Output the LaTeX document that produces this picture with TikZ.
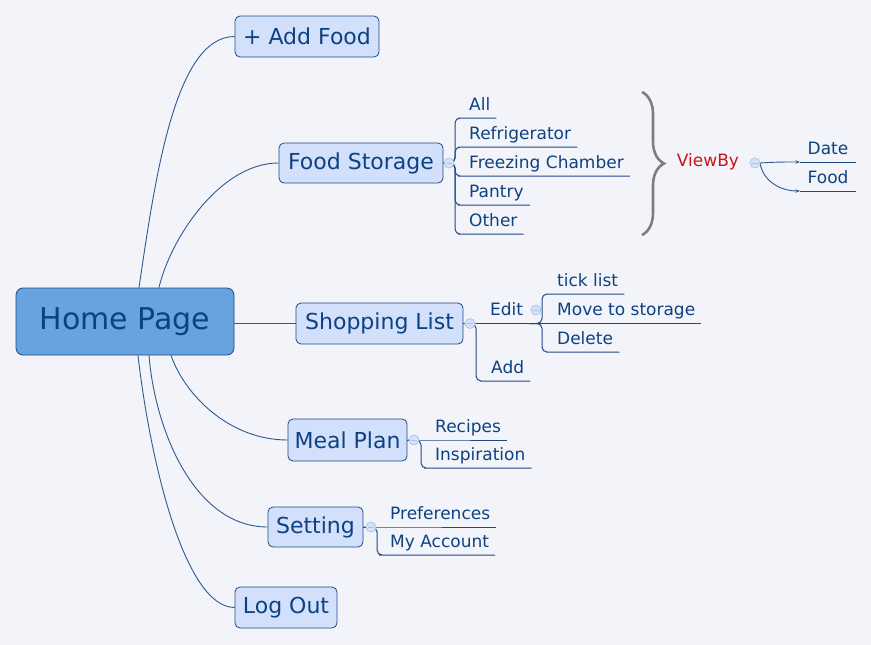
\documentclass[tikz,border=0pt]{standalone}
\usepackage{fontspec}
\setmainfont{DejaVu Sans}
\usetikzlibrary{arrows.meta,decorations.pathreplacing}
\definecolor{bg}{HTML}{F3F4F9}
\definecolor{nfill}{HTML}{D3E0FC}
\definecolor{ndraw}{HTML}{1D4A85}
\definecolor{txt}{HTML}{0D4282}
\definecolor{lnk}{HTML}{2B5B93}
\definecolor{rootfill}{HTML}{68A3DF}
\definecolor{cfill}{HTML}{D6E2F8}
\definecolor{cdraw}{HTML}{A9C2EB}
\definecolor{vred}{HTML}{C8151B}
\definecolor{brgray}{HTML}{7E7E7E}
\begin{document}
\begin{tikzpicture}[x=1pt,y=-1pt,
  topic/.style={draw=ndraw, fill=nfill, rounded corners=5pt, line width=0.8pt,
    text=txt, font=\fontsize{22}{26}\selectfont, inner sep=0pt},
  rootnode/.style={topic, fill=rootfill, rounded corners=7pt, font=\fontsize{30}{34}\selectfont},
  leaf/.style={anchor=south west, inner xsep=6pt, inner ysep=2.5pt, text height=12pt,
    text depth=5pt, font=\fontsize{17}{20}\selectfont, text=txt},
  leafv/.style={leaf, inner xsep=7.5pt},
  mainlink/.style={draw=lnk, line width=0.9pt},
  sub/.style={draw=ndraw, line width=1pt, rounded corners=5pt},
  thinlink/.style={draw=lnk, line width=0.9pt},
  coll/.style={circle, minimum size=10pt, inner sep=0pt, fill=cfill, draw=cdraw, line width=0.7pt,
    path picture={\draw[cdraw, line width=0.8pt] ([xshift=-3pt]path picture bounding box.center) -- ([xshift=3pt]path picture bounding box.center);}},
  bracestyle/.style={draw=brgray, line width=2.6pt, decorate, decoration={brace, amplitude=22pt}}
]
\useasboundingbox (0,0) rectangle (871,645);
\fill[bg] (0,0) rectangle (871,645);

% main topics
\node[rootnode, minimum width=218pt, minimum height=67pt] (root) at (125,321.5) {Home Page};
\node[topic, minimum width=144pt, minimum height=41pt] (add) at (307,36.5) {+ Add Food};
\node[topic, minimum width=164pt, minimum height=40pt] (fs) at (361,163) {Food Storage};
\node[topic, minimum width=167pt, minimum height=41pt] (shop) at (379.5,323.5) {Shopping List};
\node[topic, minimum width=119pt, minimum height=42pt] (meal) at (347.5,440) {Meal Plan};
\node[topic, minimum width=95pt, minimum height=40pt] (set) at (315.5,527) {Setting};
\node[topic, minimum width=102pt, minimum height=41pt] (out) at (286,607.5) {Log Out};

% main connectors
\draw[mainlink] ([xshift=14pt]root.north) .. controls +(16,-108) and +(-60,0) .. (add.west);
\draw[mainlink] ([xshift=34pt]root.north) .. controls +(11,-48) and +(-59,0) .. (fs.west);
\draw[mainlink] (root.east |- shop.west) -- (shop.west);
\draw[mainlink] ([xshift=46pt]root.south) .. controls +(14,40) and +(-58,0) .. (meal.west);
\draw[mainlink] ([xshift=24pt]root.south) .. controls +(6,75) and +(-73,0) .. (set.west);
\draw[mainlink] ([xshift=13pt]root.south) .. controls +(12,105) and +(-50,0) .. (out.west);

% Food Storage children
\coordinate (fsj) at (455,163);
\node[leaf] (all) at (463,118) {All};
\node[leaf] (refr) at (463,147) {Refrigerator};
\node[leaf] (freez) at (463,176) {Freezing Chamber};
\node[leaf] (pantry) at (463,205) {Pantry};
\node[leaf] (other) at (463,234) {Other};
\foreach \c in {all,refr,freez,pantry,other}
  \draw[sub] (fs.east) -- (fsj) |- (\c.south west) -- (\c.south east);

% Shopping List children
\coordinate (shj) at (476,323.5);
\coordinate (edj) at (542,323.5);
\node[leaf] (edit) at (484,323.5) {Edit};
\node[leaf] (addl) at (485,381) {Add};
\node[leaf] (tick) at (551,294) {tick list};
\node[leaf] (move) at (551,323.5) {Move to storage};
\node[leaf] (del) at (551,352) {Delete};
\draw[sub] (shop.east) -- (edit.south west) -- (edit.south east) -- (edj);
\draw[sub] (shop.east) -- (shj) |- (addl.south west) -- (addl.south east);
\draw[sub] (edj) -- (move.south west) -- (move.south east);
\draw[sub] (edit.south east) -- (edj) |- (tick.south west) -- (tick.south east);
\draw[sub] (edit.south east) -- (edj) |- (del.south west) -- (del.south east);

% Meal Plan children
\coordinate (mpj) at (421,440);
\node[leaf] (rec) at (429,440) {Recipes};
\node[leaf] (insp) at (429,468) {Inspiration};
\draw[sub] (meal.east) -- (rec.south west) -- (rec.south east);
\draw[sub] (meal.east) -- (mpj) |- (insp.south west) -- (insp.south east);

% Setting children
\coordinate (stj) at (377,527);
\node[leaf] (pref) at (384,527) {Preferences};
\node[leaf] (acct) at (384,555) {My Account};
\draw[sub] (set.east) -- (pref.south west) -- (pref.south east);
\draw[sub] (set.east) -- (stj) |- (acct.south west) -- (acct.south east);

% summary brace and ViewBy
\coordinate (brtop) at (642,92);
\coordinate (brbot) at (642,235);
\draw[bracestyle] (brtop) -- (brbot);
\node[font=\fontsize{17}{20}\selectfont, text=vred, inner sep=0pt] (vb) at (708,162) {ViewBy};
\coordinate (vbcc) at (755,163);
\node[leafv] (date) at (800,162) {Date};
\node[leafv] (foodl) at (800,191) {Food};
\draw[thinlink, -{Stealth[length=4.5pt,width=3.5pt]}] ([xshift=5pt]vbcc) .. controls +(15,-1) and +(-15,0) .. (date.south west);
\draw[thinlink, -{Stealth[length=4.5pt,width=3.5pt]}] ([xshift=5pt]vbcc) .. controls +(3,18) and +(-20,0) .. (foodl.south west);
\draw[sub] (date.south west) -- (date.south east);
\draw[sub] (foodl.south west) -- (foodl.south east);

% collapse buttons
\node[coll] (fsc) at (449,163) {};
\node[coll] (shc) at (470,323.5) {};
\node[coll] (edc) at (536,310) {};
\node[coll] (mpc) at (414,440) {};
\node[coll] (stc) at (371,527) {};
\node[coll] (vbc) at (vbcc) {};
\end{tikzpicture}
\end{document}
